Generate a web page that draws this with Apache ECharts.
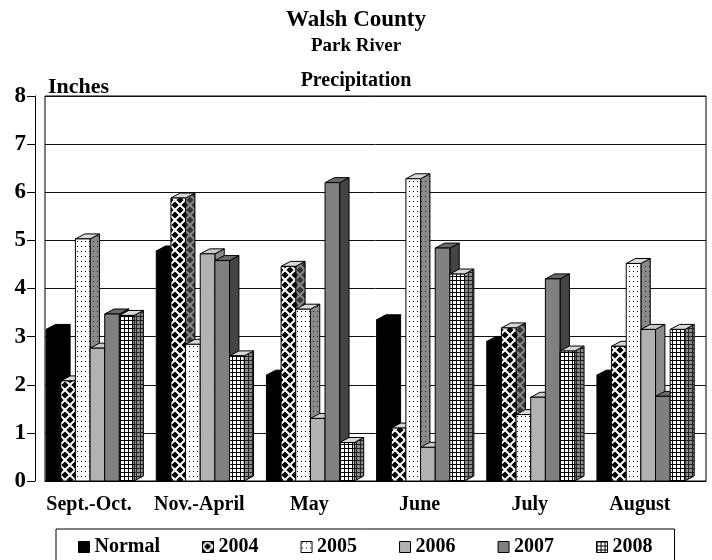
<!DOCTYPE html>
<html>
<head>
<meta charset="utf-8">
<script src="https://cdn.jsdelivr.net/npm/echarts@6/dist/echarts.min.js"></script>
<style>
  html, body { margin: 0; background: #fff; }
  #main { width: 712px; height: 560px; }
</style>
</head>
<body>
<div id="main"></div>
<script>
// Walsh County - Park River precipitation (inches)
var categories = ['Sept.-Oct.', 'Nov.-April', 'May', 'June', 'July', 'August'];
var seriesNames = ['Normal', '2004', '2005', '2006', '2007', '2008'];
var normal = [3.15, 4.78, 2.2, 3.35, 2.9, 2.2];
var y2004 = [2.08, 5.88, 4.46, 1.1, 3.18, 2.8];
var y2005 = [5.03, 2.84, 3.57, 6.28, 1.38, 4.52];
var y2006 = [2.76, 4.72, 1.3, 0.7, 1.74, 3.15];
var y2007 = [3.47, 4.58, 6.2, 4.84, 4.2, 1.76];
var y2008 = [3.44, 2.6, 0.8, 4.3, 2.7, 3.15];
var yTicks = [0, 1, 2, 3, 4, 5, 6, 7, 8];

var FONT = 'Liberation Serif';

function tile(w, h, bg, draw) {
  var c = document.createElement('canvas');
  c.width = w; c.height = h;
  var ctx = c.getContext('2d');
  ctx.fillStyle = bg;
  ctx.fillRect(0, 0, w, h);
  draw(ctx);
  return { image: c, repeat: 'repeat' };
}

function diamonds(fg) {
  return function (ctx) {
    ctx.fillStyle = fg;
    var r = 3.6;
    [[5, 5], [0, 0], [10, 0], [0, 10], [10, 10]].forEach(function (p) {
      ctx.beginPath();
      ctx.moveTo(p[0], p[1] - r);
      ctx.lineTo(p[0] + r, p[1]);
      ctx.lineTo(p[0], p[1] + r);
      ctx.lineTo(p[0] - r, p[1]);
      ctx.closePath();
      ctx.fill();
    });
  };
}
function dots(fg) {
  return function (ctx) {
    ctx.fillStyle = fg;
    ctx.fillRect(1, 1, 1, 1);
  };
}
function gridLines(fg) {
  return function (ctx) {
    ctx.fillStyle = fg;
    ctx.fillRect(0, 0, 4, 1);
    ctx.fillRect(0, 0, 1, 4);
  };
}

// front / side / top fills per series
var fills = [
  { front: '#000', side: '#000', top: '#000' },
  { front: tile(10, 10, '#fff', diamonds('#000')), side: tile(10, 10, '#8a8a8a', diamonds('#333')), top: '#d8d8d8' },
  { front: tile(4, 5, '#fff', dots('#000')), side: tile(4, 5, '#8a8a8a', dots('#222')), top: '#d8d8d8' },
  { front: '#b2b2b2', side: '#8c8c8c', top: '#c8c8c8' },
  { front: '#808080', side: '#444', top: '#6a6a6a' },
  { front: tile(4, 4, '#fff', gridLines('#000')), side: tile(4, 4, '#8a8a8a', gridLines('#222')), top: '#d8d8d8' }
];

function renderBar(params, api) {
  var s = params.seriesIndex;
  var cat = api.value(0);
  var base = api.coord([cat, 0]);
  var top = api.coord([cat, api.value(1)]);
  var catW = api.size([1, 0])[0];
  var bw = catW * 0.133;
  var dx = catW * 0.085;
  var dy = 5;
  var x = base[0] - catW / 2 + catW * 0.01 + s * bw;
  var f = fills[s];
  var line = { stroke: '#000', lineWidth: 1 };
  return {
    type: 'group',
    children: [
      {
        type: 'polygon',
        shape: { points: [[x + bw, top[1]], [x + bw + dx, top[1] - dy], [x + bw + dx, base[1] - dy], [x + bw, base[1]]] },
        style: Object.assign({ fill: f.side }, line)
      },
      {
        type: 'polygon',
        shape: { points: [[x, top[1]], [x + dx, top[1] - dy], [x + bw + dx, top[1] - dy], [x + bw, top[1]]] },
        style: Object.assign({ fill: f.top }, line)
      },
      {
        type: 'rect',
        shape: { x: x, y: top[1], width: bw, height: base[1] - top[1] },
        style: Object.assign({ fill: f.front }, line)
      }
    ]
  };
}

var dataSets = [normal, y2004, y2005, y2006, y2007, y2008];

var chart = echarts.init(document.getElementById('main'));
chart.setOption({
  animation: false,
  backgroundColor: '#fff',
  title: [
    { text: 'Walsh County', left: 'center', top: 4, textStyle: { fontFamily: FONT, fontSize: 23, fontWeight: 'bold', color: '#000' } },
    { text: 'Park River', left: 'center', top: 32, textStyle: { fontFamily: FONT, fontSize: 19, fontWeight: 'bold', color: '#000' } },
    { text: 'Precipitation', left: 'center', top: 66, textStyle: { fontFamily: FONT, fontSize: 20, fontWeight: 'bold', color: '#000' } },
    { text: 'Inches', left: 43, top: 71, textStyle: { fontFamily: FONT, fontSize: 22, fontWeight: 'bold', color: '#000' } }
  ],
  legend: {
    left: 56,
    top: 529,
    padding: [8, 22, 20, 22],
    borderColor: '#000',
    borderWidth: 1,
    itemWidth: 11,
    itemHeight: 11,
    itemGap: 42,
    textStyle: { fontFamily: FONT, fontSize: 20, fontWeight: 'bold', color: '#000' },
    data: seriesNames.map(function (n, i) {
      return { name: n, icon: 'rect', itemStyle: { color: fills[i].front, borderColor: '#000', borderWidth: 1 } };
    })
  },
  grid: {
    left: 45, right: 6, top: 96, bottom: 79,
    show: true, borderColor: '#000', borderWidth: 1
  },
  xAxis: {
    type: 'category',
    data: categories,
    axisLine: { show: true, lineStyle: { color: '#000', width: 1 } },
    axisTick: { show: false },
    axisLabel: { interval: 0, fontFamily: FONT, fontSize: 20, fontWeight: 'bold', color: '#000', margin: 14, padding: [0, 22, 0, 0] }
  },
  yAxis: {
    type: 'value',
    min: 0,
    max: 8,
    interval: 1,
    offset: 10,
    axisLine: { show: true, lineStyle: { color: '#000' } },
    axisTick: { show: true, length: 8, lineStyle: { color: '#000' } },
    axisLabel: { fontFamily: FONT, fontSize: 23, fontWeight: 'bold', color: '#000', margin: 9,
      formatter: function (v) { return yTicks.indexOf(v) >= 0 ? String(v) : ''; } },
    splitLine: { show: true, lineStyle: { color: '#111', width: 1 } }
  },
  series: dataSets.map(function (d, i) {
    return {
      name: seriesNames[i],
      type: 'custom',
      renderItem: renderBar,
      itemStyle: { color: fills[i].front },
      encode: { x: 0, y: 1 },
      data: d.map(function (v, c) { return [c, v]; })
    };
  })
});
</script>
</body>
</html>
